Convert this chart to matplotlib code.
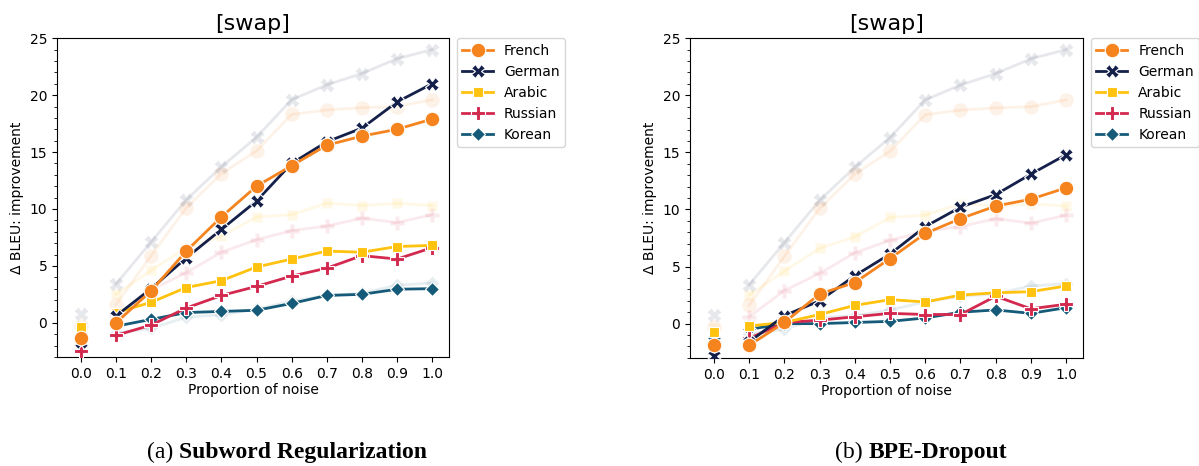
import matplotlib
matplotlib.use("Agg")
import matplotlib.pyplot as plt
import numpy as np

noise = [0.0, 0.1, 0.2, 0.3, 0.4, 0.5, 0.6, 0.7, 0.8, 0.9, 1.0]
languages = ["French", "German", "Arabic", "Russian", "Korean"]
colors = ["#f5841f", "#14204a", "#ffc20e", "#d3294f", "#155a78"]
markers = ["o", "X", "s", "P", "D"]
msizes = [10.5, 9.5, 7.5, 10, 7.5]

# faded reference curves (shared by both panels)
faded_french = [-0.3, 1.6, 5.9, 10.1, 13.1, 15.1, 18.3, 18.7, 18.9, 19.0, 19.6]
faded_german = [0.8, 3.4, 7.1, 10.8, 13.7, 16.3, 19.6, 20.9, 21.9, 23.2, 24.0]
faded_arabic = [-0.4, 2.5, 4.6, 6.6, 7.6, 9.3, 9.5, 10.5, 10.3, 10.5, 10.3]
faded_russian = [-2.0, 0.6, 2.9, 4.4, 6.2, 7.3, 8.1, 8.5, 9.2, 8.8, 9.5]
faded_korean = [-1.2, -0.9, -0.5, 0.5, 0.7, 1.2, 1.9, 2.4, 2.6, 3.3, 3.5]

# (a) Subword Regularization
sr_french = [-1.3, 0.0, 2.8, 6.3, 9.3, 12.0, 13.8, 15.6, 16.4, 17.0, 17.9]
sr_german = [-1.7, 0.6, 3.0, 5.7, 8.2, 10.7, 14.0, 15.9, 17.1, 19.4, 21.0]
sr_arabic = [-0.4, 0.9, 1.8, 3.1, 3.7, 4.9, 5.6, 6.3, 6.2, 6.7, 6.8]
sr_russian = [-2.5, -1.1, -0.2, 1.3, 2.4, 3.2, 4.1, 4.8, 5.9, 5.6, 6.6]
sr_korean = [-1.2, -0.3, 0.3, 0.9, 1.0, 1.1, 1.7, 2.4, 2.5, 2.95, 3.0]

# (b) BPE-Dropout
bd_french = [-1.9, -1.9, 0.1, 2.6, 3.6, 5.7, 7.9, 9.2, 10.3, 10.9, 11.9]
bd_german = [-2.8, -1.6, 0.7, 2.0, 4.2, 6.1, 8.5, 10.2, 11.3, 13.1, 14.8]
bd_arabic = [-0.7, -0.2, 0.1, 0.8, 1.6, 2.1, 1.9, 2.5, 2.7, 2.8, 3.3]
bd_russian = [-2.6, -1.3, 0.1, 0.3, 0.6, 0.9, 0.8, 0.8, 2.4, 1.3, 1.7]
bd_korean = [-1.3, -0.5, 0.0, 0.0, 0.1, 0.2, 0.5, 1.0, 1.2, 0.9, 1.4]

faded = [faded_french, faded_german, faded_arabic, faded_russian, faded_korean]
panels = [
    ([sr_french, sr_german, sr_arabic, sr_russian, sr_korean], "Subword Regularization", "(a) "),
    ([bd_french, bd_german, bd_arabic, bd_russian, bd_korean], "BPE-Dropout", "(b) "),
]

fig = plt.figure(figsize=(11.99, 4.66), dpi=100)
axes_rects = [[0.0475, 0.234, 0.327, 0.684], [0.5755, 0.232, 0.3278, 0.686]]
caption_x = [287 / 1199, 921 / 1199]

mk = dict(markeredgecolor="white", markeredgewidth=0.8)

for (series, capname, prefix), rect in zip(panels, axes_rects):
    ax = fig.add_axes(rect)
    n = len(languages)
    # faded curves
    for i in reversed(range(n)):
        vals, c, m, ms = faded[i], colors[i], markers[i], msizes[i]
        ax.plot(noise[1:], vals[1:], color=c, lw=2, alpha=0.1, zorder=2)
        ax.plot(noise, vals, color=c, ls="none", marker=m, markersize=ms, alpha=0.1,
                zorder=2, **mk)
    # main curves
    handles = [None] * n
    for i in reversed(range(n)):
        vals, c, m, ms = series[i], colors[i], markers[i], msizes[i]
        ax.plot(noise[1:], vals[1:], color=c, lw=2, zorder=3 + 0.1 * (n - i))
        ax.plot(noise, vals, color=c, ls="none", marker=m, markersize=ms,
                zorder=3 + 0.1 * (n - i), **mk)
        handles[i], = ax.plot([], [], color=c, lw=2, marker=m, markersize=ms,
                              label=languages[i], **mk)
    ax.set_xlim(-0.068, 1.048)
    ax.set_ylim(-3, 25)
    ax.set_xticks(noise)
    ax.set_xticklabels([f"{v:.1f}" for v in noise])
    ax.set_yticks([0, 5, 10, 15, 20, 25])
    ax.set_yticks(np.arange(-3, 26, 1), minor=True)
    ax.tick_params(labelsize=10)
    ax.set_xlabel("Proportion of noise", fontsize=10, labelpad=2)
    ax.set_ylabel("Δ BLEU: improvement", fontsize=10)
    ax.set_title("[swap]", fontsize=16, pad=6)
    ax.legend(handles=handles, loc="upper left", bbox_to_anchor=(1.02, 1.0), fontsize=10,
              handlelength=2.2, borderaxespad=0.0)

# captions drawn as two pieces: normal prefix + bold name
fig.canvas.draw()
renderer = fig.canvas.get_renderer()
for (series, capname, prefix), cx in zip(panels, caption_x):
    tp = fig.text(0, 0.017, prefix, fontsize=17, family="Liberation Serif", va="baseline")
    tb = fig.text(0, 0.017, capname, fontsize=17, family="Liberation Serif",
                  fontweight="bold", va="baseline")
    wp = tp.get_window_extent(renderer).width
    wb = tb.get_window_extent(renderer).width
    total = (wp + wb) / fig.bbox.width
    x0 = cx - total / 2
    tp.set_x(x0)
    tb.set_x(x0 + wp / fig.bbox.width)

fig.savefig("out.png", dpi=100)
